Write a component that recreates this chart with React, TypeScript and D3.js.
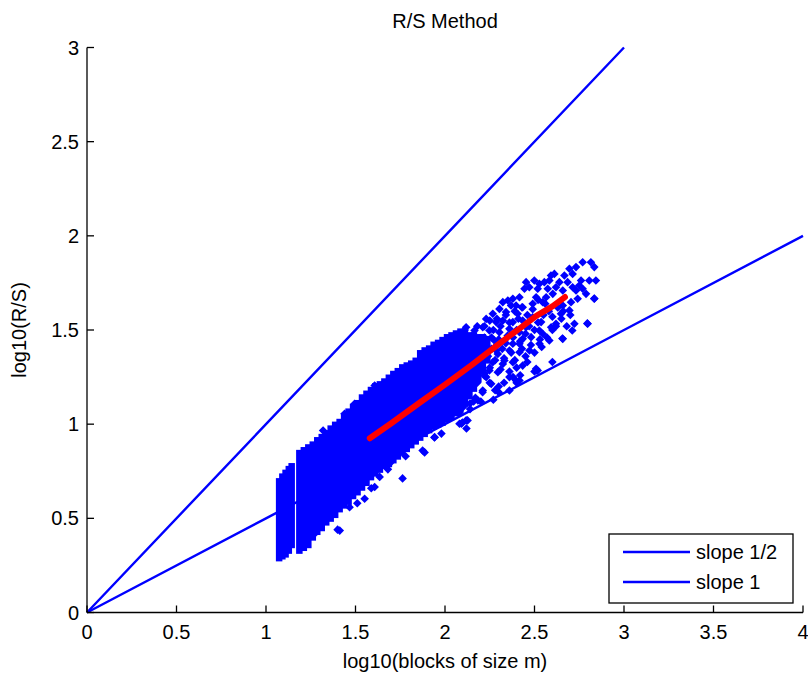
import React from "react";
import * as d3 from "d3";

// ---- data ----
const xTicks = [0, 0.5, 1, 1.5, 2, 2.5, 3, 3.5, 4];
const yTicks = [0, 0.5, 1, 1.5, 2, 2.5, 3];
const xTickLabels = ["0", "0.5", "1", "1.5", "2", "2.5", "3", "3.5", "4"];
const yTickLabels = ["0", "0.5", "1", "1.5", "2", "2.5", "3"];

const slopeHalfX = [0, 1, 2, 3, 4];
const slopeHalfY = [0, 0.5, 1, 1.5, 2];
const slopeOneX = [0, 1, 2, 3];
const slopeOneY = [0, 1, 2, 3];

const fitX = [1.58, 1.7, 1.86, 2.0, 2.15, 2.32, 2.42, 2.51, 2.6, 2.67];
const fitY = [0.925, 1.005, 1.115, 1.21, 1.315, 1.44, 1.51, 1.575, 1.625, 1.675];

// dense columns of R/S estimates: block size position, lowest and highest value
const bandX = [1.072, 1.09, 1.108, 1.126, 1.142,
  1.185, 1.21, 1.235, 1.26, 1.285, 1.31, 1.335, 1.36, 1.385, 1.41, 1.435, 1.46, 1.485, 1.51, 1.535,
  1.56, 1.585, 1.61, 1.635, 1.66, 1.685, 1.71, 1.735, 1.76, 1.785, 1.81, 1.835, 1.86, 1.885, 1.91,
  1.935, 1.96, 1.985, 2.01, 2.035, 2.06, 2.085, 2.11, 2.135, 2.16, 2.185, 2.21, 2.235];
const bandLo = [0.29, 0.30, 0.31, 0.33, 0.36,
  0.33, 0.345, 0.36, 0.40, 0.43, 0.45, 0.48, 0.50, 0.52, 0.55, 0.57, 0.59, 0.62, 0.64, 0.665,
  0.69, 0.72, 0.74, 0.76, 0.78, 0.79, 0.81, 0.83, 0.85, 0.87, 0.89, 0.91, 0.93, 0.95, 0.97,
  0.99, 1.0, 1.01, 1.03, 1.04, 1.06, 1.08, 1.11, 1.15, 1.19, 1.24, 1.29, 1.34];
const bandHi = [0.695, 0.72, 0.74, 0.76, 0.775,
  0.845, 0.86, 0.875, 0.89, 0.913, 0.93, 0.95, 0.975, 0.995, 1.01, 1.04, 1.065, 1.09, 1.11, 1.14,
  1.16, 1.18, 1.2, 1.21, 1.225, 1.245, 1.265, 1.28, 1.3, 1.31, 1.32, 1.335, 1.375, 1.39, 1.4,
  1.42, 1.43, 1.445, 1.46, 1.47, 1.48, 1.49, 1.48, 1.47, 1.47, 1.46, 1.46, 1.45];

// individual scattered R/S estimates
const ptX = [
  1.207, 1.235, 1.272, 1.291, 1.337, 1.40, 1.412, 1.467, 1.51, 1.551, 1.588, 1.607, 1.635, 1.681, 1.763, 1.70,
  1.78, 1.875, 1.886, 1.941, 1.98, 2.092, 2.098, 2.12, 2.126, 2.081, 2.118, 1.942,
  1.607, 1.653, 1.495, 1.439, 1.319, 1.70, 1.737, 1.849, 1.904, 1.96, 2.053, 2.118, 2.165, 2.22,
  2.416, 2.509, 2.332, 2.295, 2.36, 2.258, 2.211, 2.184, 2.36, 2.286, 2.416, 2.472, 2.528, 2.546, 2.593,
  2.11, 2.13, 2.12, 2.14, 2.11, 2.15, 2.12, 2.16, 2.18, 2.17, 2.19, 2.2, 2.18, 2.21, 2.14, 2.24, 2.25,
  2.23, 2.26, 2.28, 2.3, 2.32, 2.35, 2.33, 2.31, 2.38, 2.4, 2.42, 2.45, 2.47, 2.5, 2.52, 2.55, 2.58,
  2.6, 2.63, 2.56, 2.27, 2.3, 2.4, 2.45, 2.48, 2.53, 2.38, 2.6, 2.65, 2.7,
  2.769, 2.815, 2.834, 2.732, 2.695, 2.713, 2.667, 2.611, 2.592, 2.583, 2.639, 2.685, 2.76, 2.806, 2.843,
  2.75, 2.713, 2.62, 2.555, 2.527, 2.499, 2.453, 2.471, 2.444, 2.518, 2.574, 2.602, 2.658, 2.732, 2.769,
  2.788, 2.834, 2.741, 2.704, 2.658, 2.695, 2.648, 2.62, 2.723, 2.797, 2.658, 2.583, 2.416, 2.379, 2.351,
  2.323, 2.369, 2.397, 2.434, 2.49, 2.546, 2.565, 2.509, 2.406, 2.341, 2.304, 2.267, 2.23, 2.286, 2.323,
  2.379, 2.434, 2.49, 2.537, 2.527, 2.453, 2.416, 2.36, 2.304, 2.248, 2.211, 2.22, 2.276, 2.332, 2.379,
  2.434, 2.481, 2.416, 2.36, 2.295, 2.267, 2.323, 2.379, 2.434, 2.248, 2.22, 2.518, 2.397,
  2.656, 2.795, 2.711, 2.834, 2.51,
  2.22, 2.25, 2.27, 2.29, 2.31, 2.34, 2.36, 2.39, 2.41, 2.43, 2.46, 2.49, 2.52, 2.26, 2.29, 2.34, 2.37,
  2.39, 2.43, 2.46, 2.5, 2.54, 2.57, 2.62, 2.66, 2.68, 2.22, 2.25, 2.28, 2.33, 2.36, 2.42, 2.2, 2.23,
  2.2, 2.3, 2.4, 2.5, 2.6, 2.08, 2.1, 2.14, 2.17,
];
const ptY = [
  0.365, 0.40, 0.418, 0.50, 0.52, 0.44, 0.435, 0.559, 0.58, 0.604, 0.66, 0.666, 0.72, 0.76, 0.712, 0.80,
  0.83, 0.86, 0.85, 0.929, 0.95, 1.003, 1.009, 0.977, 1.02, 1.002, 1.02, 0.931,
  1.205, 1.214, 1.108, 1.055, 0.966, 1.24, 1.267, 1.32, 1.373, 1.418, 1.471, 1.515, 1.497, 1.46,
  1.232, 1.294, 1.338, 1.276, 1.179, 1.214, 1.179, 1.126, 1.25, 1.391, 1.427, 1.391, 1.427, 1.48, 1.515,
  1.50, 1.45, 1.40, 1.35, 1.30, 1.25, 1.18, 1.12, 1.52, 1.43, 1.38, 1.30, 1.22, 1.17, 1.08, 1.36, 1.30,
  1.25, 1.40, 1.34, 1.45, 1.40, 1.47, 1.35, 1.29, 1.46, 1.50, 1.44, 1.48, 1.52, 1.50, 1.54, 1.58, 1.60,
  1.57, 1.62, 1.64, 1.13, 1.20, 1.30, 1.36, 1.42, 1.45, 1.25, 1.50, 1.56, 1.58,
  1.86, 1.86, 1.834, 1.834, 1.825, 1.798, 1.789, 1.798, 1.789, 1.763, 1.754, 1.754, 1.763, 1.763, 1.763,
  1.736, 1.727, 1.727, 1.754, 1.745, 1.763, 1.754, 1.727, 1.719, 1.719, 1.719, 1.692, 1.71, 1.71, 1.719,
  1.692, 1.666, 1.666, 1.648, 1.63, 1.604, 1.586, 1.533, 1.533, 1.533, 1.453, 1.444, 1.674, 1.666, 1.657,
  1.648, 1.63, 1.63, 1.621, 1.639, 1.648, 1.674, 1.674, 1.586, 1.595, 1.612, 1.586, 1.559, 1.542, 1.55,
  1.542, 1.55, 1.568, 1.542, 1.497, 1.515, 1.488, 1.506, 1.488, 1.497, 1.515, 1.453, 1.444, 1.444, 1.427,
  1.453, 1.462, 1.382, 1.391, 1.373, 1.329, 1.32, 1.329, 1.311, 1.285, 1.258, 1.285, 1.232,
  1.455, 1.535, 1.497, 1.667, 1.285,
  1.52, 1.55, 1.50, 1.56, 1.52, 1.58, 1.54, 1.60, 1.56, 1.62, 1.58, 1.61, 1.66, 1.46, 1.42, 1.43, 1.38,
  1.34, 1.40, 1.33, 1.38, 1.41, 1.46, 1.52, 1.60, 1.52, 1.27, 1.22, 1.18, 1.22, 1.28, 1.26, 1.35, 1.41,
  1.12, 1.17, 1.22, 1.28, 1.33, 1.06, 1.09, 1.11, 1.14,
];

const legendLabels = ["slope 1/2", "slope 1"];

// ---- layout ----
const W = 808;
const H = 673;
const L = 87, R = 803, T = 47.5, B = 612.5;
const FONT = "'Liberation Sans', Arial, sans-serif";
const FS = 20;
const BLUE = "#0000ff";
const RED = "#ff0000";

export default function App() {
  const x = d3.scaleLinear().domain([0, 4]).range([L, R]);
  const y = d3.scaleLinear().domain([0, 3]).range([B, T]);
  const line = d3.line<[number, number]>().x((d) => x(d[0])).y((d) => y(d[1]));

  const half = slopeHalfX.map((v, i) => [v, slopeHalfY[i]] as [number, number]);
  const one = slopeOneX.map((v, i) => [v, slopeOneY[i]] as [number, number]);
  const fit = fitX.map((v, i) => [v, fitY[i]] as [number, number]);

  const r = 4.3;
  const diamond = (cx: number, cy: number) =>
    `M${cx},${cy - r}L${cx + r},${cy}L${cx},${cy + r}L${cx - r},${cy}Z`;

  const tick = 7;
  const legX = 609, legY = 534, legW = 184, legH = 69;

  return (
    <svg width={W} height={H} style={{ position: "absolute", left: 0, top: 0, background: "#fff" }}
      fontFamily={FONT}>
      <rect x={0} y={0} width={W} height={H} fill="#fff" />
      {/* reference lines */}
      <path d={line(half) || ""} fill="none" stroke={BLUE} strokeWidth={2.4} />
      <path d={line(one) || ""} fill="none" stroke={BLUE} strokeWidth={2.4} />

      {/* dense columns */}
      {bandX.map((v, i) => (
        <rect key={"b" + i} x={x(v) - 3} width={6.5} y={y(bandHi[i]) - 3.5}
          height={y(bandLo[i]) - y(bandHi[i]) + 7} fill={BLUE} />
      ))}
      {/* scattered points */}
      {ptX.map((v, i) => (
        <path key={"p" + i} d={diamond(x(v), y(ptY[i]))} fill={BLUE} />
      ))}

      {/* fitted line */}
      <path d={line(fit) || ""} fill="none" stroke={RED} strokeWidth={6} strokeLinejoin="round" strokeLinecap="round" />

      {/* axes */}
      <line x1={L} x2={R} y1={B} y2={B} stroke="#000" strokeWidth={1.3} />
      <line x1={L} x2={L} y1={T} y2={B} stroke="#000" strokeWidth={1.3} />
      {xTicks.map((t, i) => (
        <g key={"xt" + i}>
          <line x1={x(t)} x2={x(t)} y1={B} y2={B - tick} stroke="#000" strokeWidth={1.3} />
          <text x={x(t)} y={B + 26} textAnchor="middle" fontSize={FS} fill="#000">{xTickLabels[i]}</text>
        </g>
      ))}
      {yTicks.map((t, i) => (
        <g key={"yt" + i}>
          <line x1={L} x2={L + tick} y1={y(t)} y2={y(t)} stroke="#000" strokeWidth={1.3} />
          <text x={L - 8} y={y(t) + 7} textAnchor="end" fontSize={FS} fill="#000">{yTickLabels[i]}</text>
        </g>
      ))}

      {/* titles */}
      <text x={(L + R) / 2} y={28} textAnchor="middle" fontSize={FS} fill="#000">R/S Method</text>
      <text x={(L + R) / 2} y={668} textAnchor="middle" fontSize={FS} fill="#000">log10(blocks of size m)</text>
      <text transform={`translate(26,${(T + B) / 2}) rotate(-90)`} textAnchor="middle" fontSize={FS} fill="#000">log10(R/S)</text>

      {/* legend */}
      <rect x={legX} y={legY} width={legW} height={legH} fill="#fff" stroke="#000" strokeWidth={1.3} />
      {legendLabels.map((lab, i) => (
        <g key={"lg" + i}>
          <line x1={623} x2={690} y1={legY + 18 + i * 30} y2={legY + 18 + i * 30} stroke={BLUE} strokeWidth={2.4} />
          <text x={696} y={legY + 25 + i * 30} fontSize={FS} fill="#000">{lab}</text>
        </g>
      ))}
    </svg>
  );
}
